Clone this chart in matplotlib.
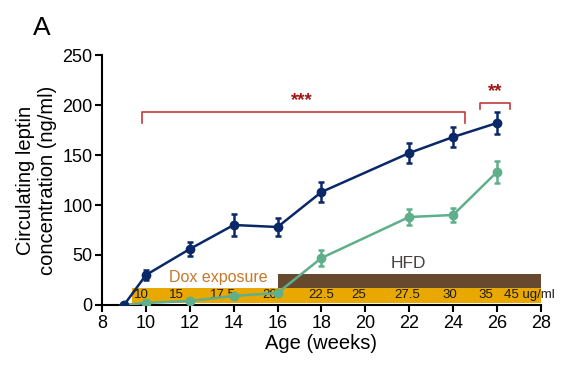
import matplotlib.pyplot as plt

plt.rcParams['font.family'] = ['Liberation Sans', 'DejaVu Sans']

# data
weeks = [9, 10, 12, 14, 16, 18, 22, 24, 26]
ctrl_mean = [0, 30, 56, 80, 78, 113, 152, 168, 182]
ctrl_err = [0, 5, 7, 11, 9, 10, 10, 10, 11]
dox_mean = [0, 2, 4, 9, 12, 47, 88, 90, 133]
dox_err = [0, 1, 1, 1, 2, 8, 8, 7, 11]

dose_x = [9.8, 11.4, 13.5, 15.65, 18.0, 19.7, 21.9, 23.85, 25.5, 27.5]
dose_labels = ["10", "15", "17.5", "20", "22.5", "25", "27.5", "30", "35", "45 ug/ml"]

navy = "#0a2767"
green = "#5fae8c"
yellow = "#e8a800"
brown = "#674a2e"
red = "#c0393b"

fig = plt.figure(figsize=(5.61, 3.67), dpi=100)
ax = fig.add_axes([0.182, 0.169, 0.782, 0.681])

# exposure bands
ax.fill_between([9.35, 28], 2, 17, color=yellow, lw=0, zorder=1)
ax.fill_between([16, 28], 17, 31, color=brown, lw=0, zorder=1)
for x, lab in zip(dose_x, dose_labels):
    ax.text(x, 9.5, lab, ha="center", va="center", fontsize=9.5, color="#1a1a1a", zorder=2)
ax.text(13.3, 27, "Dox exposure", ha="center", va="center", fontsize=11.5, color="#c8782a", zorder=2)
ax.text(21.95, 41, "HFD", ha="center", va="center", fontsize=12.5, color="#4a4040", zorder=2)

ax.errorbar(weeks, ctrl_mean, yerr=ctrl_err, color=navy, marker="o", ms=6,
            lw=1.8, elinewidth=1.8, capsize=2.5, capthick=1.8, zorder=4)
ax.errorbar(weeks, dox_mean, yerr=dox_err, color=green, marker="o", ms=6,
            lw=1.8, elinewidth=1.8, capsize=2.5, capthick=1.8, zorder=3)

# significance brackets
ax.plot([9.8, 9.8, 24.55, 24.55], [182, 193, 193, 182], color=red, lw=1.2, clip_on=False)
ax.text(17.1, 204, "***", ha="center", va="center", fontsize=13.5, color="#a31515", fontweight="bold")
ax.plot([25.25, 25.25, 26.6, 26.6], [196, 202, 202, 196], color=red, lw=1.2, clip_on=False)
ax.text(25.9, 213, "**", ha="center", va="center", fontsize=13.5, color="#a31515", fontweight="bold")

ax.set_xlim(8, 28)
ax.set_ylim(0, 250)
ax.set_xticks(range(8, 29, 2))
ax.set_yticks(range(0, 251, 50))
ax.spines["top"].set_visible(False)
ax.spines["right"].set_visible(False)
ax.spines["left"].set_linewidth(1.5)
ax.spines["bottom"].set_linewidth(1.5)
ax.tick_params(labelsize=13, width=1.5, length=5, pad=2)
ax.set_xlabel("Age (weeks)", fontsize=14.5, labelpad=2)
ax.set_ylabel("Circulating leptin\nconcentration (ng/ml)", fontsize=14.5, labelpad=4)

fig.text(0.075, 0.925, "A", fontsize=19, ha="center", va="center")

fig.savefig("out.png", dpi=100)
